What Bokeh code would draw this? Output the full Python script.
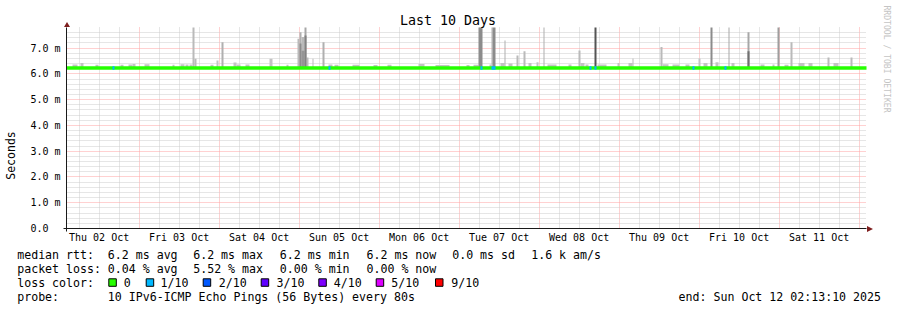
import math
from bokeh.plotting import figure
from bokeh.models import (Range1d, FixedTicker, Label, BoxAnnotation, PolyAnnotation,
                          ColumnDataSource, Grid)
from bokeh.embed import file_html
from bokeh.resources import INLINE

# ------------------------------------------------------------------ data
# time axis: hours since Thu 02 Oct 2025 00:00 ; window = last 10 days ending at end_stamp
end_stamp = "Sun Oct 12 02:13:10 2025"
window_start_h = 2 + 13 / 60 + 10 / 3600
window_end_h = window_start_h + 240

day_labels = ["Thu 02 Oct", "Fri 03 Oct", "Sat 04 Oct", "Sun 05 Oct", "Mon 06 Oct",
              "Tue 07 Oct", "Wed 08 Oct", "Thu 09 Oct", "Fri 10 Oct", "Sat 11 Oct"]
day_noon_h = [12, 36, 60, 84, 108, 132, 156, 180, 204, 228]
day_midnight_h = [24, 48, 72, 96, 120, 144, 168, 192, 216, 240]
quarter_day_h = [6, 12, 18, 30, 36, 42, 54, 60, 66, 78, 84, 90, 102, 108, 114, 126, 132, 138,
                 150, 156, 162, 174, 180, 186, 198, 204, 210, 222, 228, 234]

y_ticks_ms = [0, 1, 2, 3, 4, 5, 6, 7]
y_tick_labels = ["0.0\u00a0\u00a0", "1.0 m", "2.0 m", "3.0 m", "4.0 m", "5.0 m", "6.0 m", "7.0 m"]
y_minor_ms = [0.2, 0.4, 0.6, 0.8, 1.2, 1.4, 1.6, 1.8, 2.2, 2.4, 2.6, 2.8, 3.2, 3.4, 3.6, 3.8,
              4.2, 4.4, 4.6, 4.8, 5.2, 5.4, 5.6, 5.8, 6.2, 6.4, 6.6, 6.8, 7.2, 7.4, 7.6]
y_max_ms = 7.8

# median round-trip time (ms)
median_ms = 6.23

# smoke (spread of the 10 pings above the median): start / end hour, top ms, density 0..1
smoke_start_h = [4.02, 6.42, 10.92, 18.42, 20.82, 22.02, 25.62, 34.02, 36.42, 37.92, 39.12, 40.02,
                 40.62, 45.42, 47.22, 48.72, 52.32, 53.22, 55.92, 63.12, 68.22, 71.52, 72.12, 72.72,
                 73.62, 74.22, 76.02, 79.02, 80.82, 82.62, 88.02, 94.32, 98.52, 107.82, 112.92,
                 122.22, 124.32, 125.82, 129.12, 129.72, 130.02, 132.42, 133.62, 134.82, 137.22,
                 139.32, 140.82, 143.22, 145.32, 146.52, 152.82, 155.82, 156.42, 157.92, 160.62,
                 161.52, 167.52, 170.82, 172.02, 180.42, 181.02, 184.02, 187.92, 191.82, 193.32,
                 195.42, 196.92, 200.82, 201.72, 206.52, 210.42, 214.02, 215.52, 217.62, 219.42,
                 221.82, 224.82, 230.52, 232.32, 237.42]
smoke_end_h = [5.52, 7.32, 11.82, 19.32, 22.02, 22.92, 27.12, 34.62, 37.62, 38.82, 40.02, 40.62,
               41.22, 46.32, 47.82, 49.32, 53.22, 54.42, 57.12, 64.02, 68.82, 72.12, 72.72, 73.62,
               74.22, 74.82, 76.32, 79.62, 82.02, 83.82, 90.12, 95.52, 99.72, 109.62, 117.12,
               123.12, 125.82, 127.02, 129.72, 130.02, 130.92, 133.62, 133.92, 136.02, 137.82,
               139.92, 141.72, 143.82, 145.62, 149.22, 153.72, 156.42, 157.62, 158.82, 161.22,
               164.22, 168.12, 172.02, 172.32, 181.02, 182.82, 186.12, 189.12, 192.42, 194.52,
               196.02, 197.82, 201.12, 202.62, 207.12, 211.62, 214.62, 216.12, 218.82, 220.02,
               223.62, 226.02, 231.12, 233.82, 238.02]
smoke_top_ms = [6.36, 6.42, 6.35, 6.35, 6.36, 6.38, 6.37, 6.35, 6.37, 6.36, 6.36, 7.8,
                6.59, 6.35, 6.52, 7.23, 6.44, 6.36, 6.36, 6.59, 6.35, 7.36, 7.62, 7.43,
                7.8, 6.64, 6.59, 7.23, 6.36, 6.35, 6.35, 6.34, 6.35, 6.38, 6.34,
                6.34, 6.35, 7.8, 6.36, 7.8, 7.8, 6.42, 7.30, 6.40, 6.71,
                6.88, 6.42, 6.45, 7.8, 6.36, 6.36, 6.91, 6.42, 6.36, 7.8,
                6.36, 6.42, 6.42, 6.60, 7.04, 6.37, 6.36, 6.36, 6.60, 6.42,
                7.8, 6.45, 7.8, 6.42, 7.62, 6.36, 6.36, 7.8, 6.35, 7.23,
                6.42, 6.42, 6.64, 6.42, 6.64]
smoke_density = [0.2, 0.2, 0.2, 0.2, 0.2, 0.2, 0.2, 0.2, 0.2, 0.2, 0.2, 0.25,
                 0.25, 0.2, 0.2, 0.3, 0.2, 0.2, 0.2, 0.2, 0.2, 0.25, 0.3, 0.25,
                 0.35, 0.25, 0.25, 0.3, 0.2, 0.2, 0.2, 0.2, 0.2, 0.2, 0.2,
                 0.2, 0.2, 0.5, 0.2, 0.3, 0.5, 0.2, 0.3, 0.2, 0.25,
                 0.25, 0.2, 0.2, 0.3, 0.2, 0.2, 0.25, 0.2, 0.2, 0.8,
                 0.2, 0.2, 0.2, 0.25, 0.25, 0.2, 0.2, 0.2, 0.2, 0.2,
                 0.5, 0.2, 0.35, 0.2, 0.35, 0.2, 0.2, 0.4, 0.2, 0.25,
                 0.2, 0.2, 0.25, 0.2, 0.25]

# denser core of the smoke inside some bins
core_start_h = [72.12, 72.72, 73.62, 206.52]
core_end_h = [72.72, 73.62, 74.22, 207.12]
core_top_ms = [7.18, 6.90, 7.49, 6.88]
core_density = [0.5, 0.45, 0.55, 0.65]

# bins with packet loss (number of lost pings out of 10)
loss_start_h = [16.02, 80.82, 126.42, 129.72, 159.12, 160.62, 190.02, 199.62]
loss_end_h = [16.62, 81.42, 127.02, 130.92, 159.72, 161.22, 190.62, 200.22]
loss_count = [1, 1, 1, 1, 1, 1, 1, 1]

loss_legend_count = [0, 1, 2, 3, 4, 5, 9]
loss_legend_text = ["0", "1/10", "2/10", "3/10", "4/10", "5/10", "9/10"]
loss_colors = {0: "#26ff00", 1: "#00b8ff", 2: "#0059ff", 3: "#5e00ff", 4: "#7e00ff",
               5: "#dd00ff", 9: "#ff0000"}

rtt_stats = ["6.2 ms avg", "6.2 ms max", "6.2 ms min", "6.2 ms now", "0.0 ms sd", "1.6 k am/s"]
loss_stats = ["0.04 % avg", "5.52 % max", "0.00 % min", "0.00 % now"]
probe_text = "10 IPv6-ICMP Echo Pings (56 Bytes) every 80s"

# ------------------------------------------------------------------ layout
W, H = 897, 310
PLOT_L, PLOT_R, PLOT_T, PLOT_B = 66, 866, 27, 228   # graph area in canvas pixels
PX_H = 800 / 240                                     # pixels per hour
PX_MS = (PLOT_B - PLOT_T) / y_max_ms                 # pixels per ms
MONO = "DejaVu Sans Mono"
GRID_MAJOR = "#ffa3a3"
GRID_MINOR = "#cdcdcd"


def gray(d):
    g = int(round(232 - 185 * d))
    return "#%02x%02x%02x" % (g, g, g)


# the frame covers the whole canvas; axes are pinned at the graph edges
x0 = window_start_h - PLOT_L / PX_H
x1 = window_start_h + (W - PLOT_L) / PX_H
y0 = -(H - PLOT_B) / PX_MS
y1 = PLOT_B / PX_MS

p = figure(width=W, height=H, output_backend="svg", toolbar_location=None, title=None,
           x_range=Range1d(x0, x1), y_range=Range1d(y0, y1),
           min_border_left=0, min_border_right=0, min_border_top=0, min_border_bottom=0,
           background_fill_color="white", border_fill_color="white", outline_line_color=None)

# grids, limited to the graph area
has_cross = "cross_bounds" in Grid.properties()
p.xgrid.ticker = FixedTicker(ticks=day_midnight_h, minor_ticks=quarter_day_h)
p.ygrid.ticker = FixedTicker(ticks=y_ticks_ms, minor_ticks=y_minor_ms)
if has_cross:
    p.xgrid.cross_bounds = (0, y_max_ms)
    p.ygrid.cross_bounds = (window_start_h, window_end_h)
    for g in (p.xgrid[0], p.ygrid[0]):
        g.grid_line_color = GRID_MAJOR
        g.grid_line_dash = "1 1"
        g.minor_grid_line_color = GRID_MINOR
        g.minor_grid_line_dash = "1 1"
else:
    p.xgrid.grid_line_color = None
    p.ygrid.grid_line_color = None
    p.segment(x0=quarter_day_h, x1=quarter_day_h, y0=[0] * len(quarter_day_h),
              y1=[y_max_ms] * len(quarter_day_h), line_color=GRID_MINOR, line_dash="1 1")
    p.segment(x0=[window_start_h] * len(y_minor_ms), x1=[window_end_h] * len(y_minor_ms),
              y0=y_minor_ms, y1=y_minor_ms, line_color=GRID_MINOR, line_dash="1 1")
    p.segment(x0=day_midnight_h, x1=day_midnight_h, y0=[0] * len(day_midnight_h),
              y1=[y_max_ms] * len(day_midnight_h), line_color=GRID_MAJOR, line_dash="1 1")
    p.segment(x0=[window_start_h] * len(y_ticks_ms), x1=[window_end_h] * len(y_ticks_ms),
              y0=y_ticks_ms, y1=y_ticks_ms, line_color=GRID_MAJOR, line_dash="1 1")

# axes (pinned with fixed_location; lines drawn separately)
p.xaxis.fixed_location = 0
p.yaxis.fixed_location = window_start_h
p.xaxis.ticker = FixedTicker(ticks=day_noon_h)
p.xaxis.major_label_overrides = {h: lbl for h, lbl in zip(day_noon_h, day_labels)}
p.yaxis.ticker = FixedTicker(ticks=y_ticks_ms)
p.yaxis.major_label_overrides = {v: lbl for v, lbl in zip(y_ticks_ms, y_tick_labels)}
for ax in (p.xaxis[0], p.yaxis[0]):
    ax.major_tick_out = 0
    ax.major_tick_in = 0
    ax.minor_tick_out = 0
    ax.minor_tick_in = 0
    ax.major_tick_line_color = None
    ax.minor_tick_line_color = None
    ax.axis_line_color = None
    ax.major_label_text_font = MONO
    ax.major_label_text_font_size = "10px"
    ax.major_label_text_color = "#000000"
p.xaxis.major_label_standoff = 3
p.yaxis.major_label_standoff = 6
p.yaxis.axis_label = "Seconds"
p.yaxis.axis_label_text_font = MONO
p.yaxis.axis_label_text_font_size = "11.5px"
p.yaxis.axis_label_text_font_style = "normal"
p.yaxis.axis_label_text_color = "#000000"
p.yaxis.axis_label_standoff = 9

# smoke
smoke = ColumnDataSource(dict(left=smoke_start_h, right=smoke_end_h, top=smoke_top_ms,
                              bottom=[median_ms] * len(smoke_top_ms),
                              color=[gray(d) for d in smoke_density]))
p.quad(left="left", right="right", top="top", bottom="bottom", fill_color="color",
       line_color=None, source=smoke)
core = ColumnDataSource(dict(left=core_start_h, right=core_end_h, top=core_top_ms,
                             bottom=[median_ms] * len(core_top_ms),
                             color=[gray(d) for d in core_density]))
p.quad(left="left", right="right", top="top", bottom="bottom", fill_color="color",
       line_color=None, source=core)

# median line, coloured by loss
p.segment(x0=[window_start_h], x1=[window_end_h], y0=[median_ms], y1=[median_ms],
          line_color=loss_colors[0], line_width=3.6, line_cap="butt")
loss = ColumnDataSource(dict(x0=loss_start_h, x1=loss_end_h, y=[median_ms] * len(loss_count),
                             color=[loss_colors[c] for c in loss_count]))
p.segment(x0="x0", x1="x1", y0="y", y1="y", line_color="color", line_width=3.6,
          line_cap="butt", source=loss)

# axis lines
p.segment(x0=[window_start_h, window_start_h - 3 / PX_H], x1=[window_start_h, window_end_h],
          y0=[-3 / PX_MS, 0], y1=[y_max_ms, 0], line_color="#1a1a1a", line_width=1)


# ------------------------------------------------------------------ texts
def sx(cx):
    return cx


def sy(cy):
    return H - cy


def add_text(t, cx, cy, size="11.6px", align="left", color="#000000", angle=0.0):
    p.add_layout(Label(x=sx(cx), y=sy(cy), x_units="screen", y_units="screen", text=t,
                       text_font=MONO, text_font_size=size, text_align=align,
                       text_baseline="middle", text_color=color, angle=angle))


add_text("Last 10 Days", 447.5, 19.5, size="13.3px", align="center")
add_text("RRDTOOL / TOBI OETIKER", 886.5, 58.5, size="8.1px", align="center",
         color="#c4c4c4", angle=-math.pi / 2)

arrow = "#7f1f1f"
p.add_layout(PolyAnnotation(xs=[sx(63.5), sx(66.5), sx(69.5)],
                            ys=[sy(26.5), sy(21.5), sy(26.5)],
                            xs_units="screen", ys_units="screen", fill_color=arrow,
                            fill_alpha=1.0, line_color=None))
p.add_layout(PolyAnnotation(xs=[sx(866.5), sx(872.5), sx(866.5)],
                            ys=[sy(225.5), sy(228.5), sy(231.5)],
                            xs_units="screen", ys_units="screen", fill_color=arrow,
                            fill_alpha=1.0, line_color=None))

col_x = [107.3, 192.7, 279.3, 366.0, 451.7, 530.7]
row_y = [254.3, 268.3, 282.3, 296.5]
add_text("median rtt:", 16.7, row_y[0])
for t, x in zip(rtt_stats, col_x):
    add_text(t, x, row_y[0])
add_text("packet loss:", 16.7, row_y[1])
for t, x in zip(loss_stats, col_x):
    add_text(t, x, row_y[1])
add_text("loss color:", 16.7, row_y[2])
box_x = [108.3, 145.7, 202.7, 260.7, 318.3, 375.7, 435.0]
lbl_x = [123.3, 160.0, 218.3, 276.0, 333.3, 390.7, 450.7]
for c, t, bx, lx in zip(loss_legend_count, loss_legend_text, box_x, lbl_x):
    p.add_layout(BoxAnnotation(left=sx(bx), right=sx(bx + 7.5), top=sy(278.3), bottom=sy(285.8),
                               left_units="screen", right_units="screen", top_units="screen",
                               bottom_units="screen", fill_color=loss_colors[c], fill_alpha=1.0,
                               line_color="#000000", line_width=1, line_alpha=1.0))
    add_text(t, lx, row_y[2])
add_text("probe:", 16.7, row_y[3])
add_text(probe_text, 107.3, row_y[3])
add_text("end: " + end_stamp, 880.5, row_y[3], align="right")

open("out.html", "w").write(file_html(p, INLINE))
